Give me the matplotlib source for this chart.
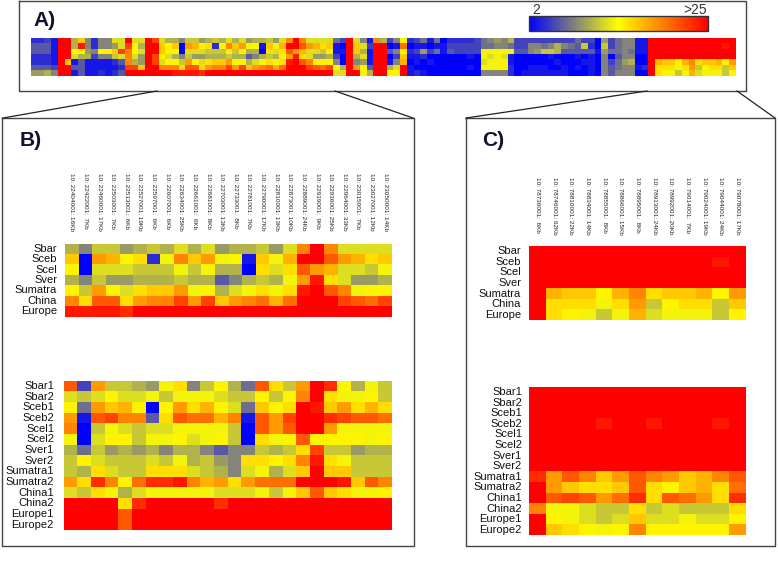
import numpy as np
import matplotlib
matplotlib.use("Agg")
import matplotlib.pyplot as plt
from matplotlib.cm import ScalarMappable
from matplotlib.colors import LinearSegmentedColormap, Normalize

plt.rcParams['font.family'] = ['Liberation Sans', 'DejaVu Sans']

# ==== labels ====
top_rows = ["Sbar", "Sceb", "Scel", "Sver", "Sumatra", "China", "Europe"]
bottom_rows = ["Sbar1", "Sbar2", "Sceb1", "Sceb2", "Scel1", "Scel2", "Sver1", "Sver2",
               "Sumatra1", "Sumatra2", "China1", "China2", "Europe1", "Europe2"]

b_cols = ["10: 22404001: 16Kb", "10: 22422001:  7Kb", "10: 22460001: 17Kb", "10: 22503001:  7Kb",
          "10: 22513001:  6Kb", "10: 22527001: 19Kb", "10: 22597001:  6Kb", "10: 22607001:  6Kb",
          "10: 22634001: 25Kb", "10: 22661001:  6Kb", "10: 22681001:  8Kb", "10: 22703001: 13Kb",
          "10: 22733001:  8Kb", "10: 22781001:  7Kb", "10: 22790001: 17Kb", "10: 22810001: 13Kb",
          "10: 22873001: 10Kb", "10: 22889001: 24Kb", "10: 22919001:  9Kb", "10: 22936001: 25Kb",
          "10: 22964001: 33Kb", "10: 23015001:  7Kb", "10: 23027001: 12Kb", "10: 23050001: 14Kb"]
c_cols = ["10: 78736001:  6Kb", "10: 78746001: 62Kb", "10: 78810001: 22Kb", "10: 78834001: 14Kb",
          "10: 78855001:  8Kb", "10: 78866001: 15Kb", "10: 78895001:  8Kb", "10: 78913001: 24Kb",
          "10: 78992001: 20Kb", "10: 79014001:  7Kb", "10: 79024001: 19Kb", "10: 79044001: 24Kb",
          "10: 79078001: 17Kb"]

# ==== panel B, 7 rows ====
b_top = [
    [10, 8, 11, 11, 9, 10, 11, 10, 12, 10, 12, 9, 10, 10, 11, 9, 12, 19, 25, 19, 12, 12, 12, 12],
    [16, 2, 18, 17, 14, 15, 4, 13, 19, 16, 18, 13, 14, 3, 16, 13, 17, 25, 25, 21, 18, 17, 15, 16],
    [14, 2, 12, 12, 12, 11, 11, 11, 13, 11, 13, 10, 10, 2, 15, 12, 15, 21, 18, 17, 12, 12, 11, 13],
    [10, 8, 11, 9, 9, 10, 10, 10, 11, 10, 10, 6, 8, 10, 11, 10, 13, 18, 24, 15, 12, 9, 9, 10],
    [14, 11, 18, 14, 12, 15, 16, 16, 18, 13, 14, 10, 12, 13, 15, 13, 15, 24, 25, 21, 19, 13, 14, 14],
    [19, 15, 21, 21, 15, 18, 19, 19, 22, 18, 22, 16, 18, 19, 20, 17, 20, 25, 25, 25, 22, 21, 20, 22],
    [24, 24, 24, 24, 23, 25, 25, 25, 25, 25, 25, 25, 25, 25, 25, 25, 25, 25, 25, 25, 25, 25, 25, 25],
]

# ==== panel B, 14 rows ====
b_bottom = [
    [21, 5, 18, 11, 11, 10, 9, 13, 15, 8, 11, 14, 10, 7, 21, 15, 11, 18, 25, 23, 14, 10, 13, 11],
    [12, 11, 12, 14, 12, 12, 13, 11, 13, 13, 13, 12, 11, 11, 14, 11, 14, 19, 25, 15, 13, 13, 14, 11],
    [14, 7, 18, 16, 17, 14, 2, 14, 18, 15, 17, 14, 12, 7, 16, 14, 15, 25, 24, 16, 18, 15, 17, 15],
    [18, 3, 21, 22, 19, 19, 6, 15, 21, 20, 20, 17, 19, 3, 21, 18, 22, 25, 25, 23, 22, 21, 21, 20],
    [19, 2, 11, 13, 12, 11, 12, 12, 13, 13, 13, 13, 11, 2, 21, 18, 21, 25, 25, 18, 13, 13, 13, 13],
    [13, 2, 12, 14, 14, 11, 13, 13, 14, 12, 13, 14, 11, 2, 15, 13, 14, 21, 14, 14, 14, 14, 13, 14],
    [10, 7, 11, 9, 10, 9, 10, 8, 10, 10, 8, 6, 8, 8, 11, 10, 11, 15, 22, 11, 11, 9, 10, 10],
    [11, 14, 12, 11, 11, 11, 12, 11, 13, 10, 11, 9, 8, 15, 15, 14, 15, 19, 24, 15, 13, 11, 11, 11],
    [11, 10, 15, 12, 11, 11, 15, 15, 15, 12, 11, 10, 8, 12, 13, 10, 12, 16, 25, 16, 16, 11, 11, 11],
    [18, 15, 23, 19, 14, 20, 23, 23, 24, 19, 17, 18, 15, 18, 20, 20, 20, 25, 25, 25, 24, 16, 21, 19],
    [12, 11, 15, 13, 10, 12, 13, 13, 13, 13, 13, 12, 12, 12, 13, 11, 13, 16, 21, 16, 15, 13, 13, 14],
    [25, 25, 25, 25, 15, 23, 25, 25, 25, 25, 25, 23, 25, 25, 25, 25, 25, 25, 25, 25, 25, 25, 25, 25],
    [25, 25, 25, 25, 21, 25, 25, 25, 25, 25, 25, 25, 25, 25, 25, 25, 25, 25, 25, 25, 25, 25, 25, 25],
    [25, 25, 25, 25, 21, 25, 25, 25, 25, 25, 25, 25, 25, 25, 25, 25, 25, 25, 25, 25, 25, 25, 25, 25],
]

# ==== panel C, 7 rows ====
c_top = [
    [25, 25, 25, 25, 25, 25, 25, 25, 25, 25, 25, 25, 25],
    [25, 25, 25, 25, 25, 25, 25, 25, 25, 25, 25, 24, 25],
    [25, 25, 25, 25, 25, 25, 25, 25, 25, 25, 25, 25, 25],
    [25, 25, 25, 25, 25, 25, 25, 25, 25, 25, 25, 25, 25],
    [25, 17, 16, 16, 14, 17, 19, 15, 16, 16, 17, 14, 18],
    [25, 15, 15, 15, 13, 15, 18, 11, 14, 15, 15, 11, 16],
    [25, 15, 14, 13, 11, 13, 17, 12, 13, 13, 13, 11, 14],
]

# ==== panel C, 14 rows ====
c_bottom = [
    [25, 25, 25, 25, 25, 25, 25, 25, 25, 25, 25, 25, 25],
    [25, 25, 25, 25, 25, 25, 25, 25, 25, 25, 25, 25, 25],
    [25, 25, 25, 25, 25, 25, 25, 25, 25, 25, 25, 25, 25],
    [25, 25, 25, 25, 24, 25, 25, 24, 25, 25, 25, 24, 25],
    [25, 25, 25, 25, 25, 25, 25, 25, 25, 25, 25, 25, 25],
    [25, 25, 25, 25, 25, 25, 25, 25, 25, 25, 25, 25, 25],
    [25, 25, 25, 25, 25, 25, 25, 25, 25, 25, 25, 25, 25],
    [25, 25, 25, 25, 25, 25, 25, 25, 25, 25, 25, 25, 25],
    [23, 18, 21, 19, 16, 18, 21, 19, 18, 16, 17, 19, 21],
    [25, 18, 16, 15, 15, 16, 21, 15, 14, 16, 17, 15, 20],
    [25, 21, 22, 21, 18, 20, 23, 15, 21, 20, 18, 15, 23],
    [19, 13, 13, 12, 11, 11, 15, 11, 12, 11, 11, 11, 15],
    [25, 14, 13, 12, 11, 12, 16, 12, 12, 13, 12, 12, 14],
    [25, 16, 15, 14, 13, 14, 19, 14, 14, 14, 14, 14, 18],
]

# ==== panel A: the columns that are not in B or C, one list per column ====
a_left_cols = [
    [4, 6, 6, 4, 4, 6, 9], [4, 6, 6, 4, 4, 6, 9], [5, 6, 6, 4, 4, 6, 10], [3, 3, 3, 3, 3, 5, 8],
    [25, 25, 25, 25, 25, 25, 25], [25, 25, 25, 25, 16, 25, 25], [10, 10, 14, 12, 3, 6, 3],
    [16, 24, 14, 10, 6, 6, 6], [8, 8, 9, 10, 3, 3, 3], [4, 4, 8, 5, 3, 3, 3],
    [8, 8, 14, 8, 3, 3, 4], [8, 8, 14, 8, 3, 3, 3], [12, 9, 16, 11, 4, 3, 4],
    [12, 12, 22, 12, 6, 4, 6], [25, 22, 19, 19, 19, 22, 25], [12, 14, 14, 12, 10, 22, 25],
    [12, 10, 12, 9, 9, 16, 25], [25, 25, 25, 25, 25, 25, 25], [22, 25, 25, 22, 22, 25, 25],
    [12, 16, 16, 14, 12, 19, 25], [10, 14, 14, 12, 14, 19, 25],
]
a_mid_cols = [
    [7, 3, 3, 5, 8, 14, 12], [5, 2, 3, 2, 2, 10, 12], [25, 25, 25, 25, 25, 25, 25],
    [12, 16, 16, 10, 8, 18, 25], [8, 12, 10, 12, 9, 14, 14], [3, 5, 3, 3, 3, 6, 10],
    [19, 25, 25, 25, 25, 25, 25], [10, 25, 25, 25, 25, 25, 25], [5, 2, 6, 2, 3, 10, 14],
    [8, 3, 8, 5, 8, 12, 14], [14, 20, 14, 16, 17, 25, 25], [4, 2, 4, 3, 2, 3, 3],
    [5, 3, 5, 3, 3, 2, 4], [7, 3, 9, 4, 2, 2, 3], [3, 2, 5, 2, 3, 2, 2],
    [7, 3, 7, 2, 2, 2, 2], [2, 3, 3, 2, 2, 2, 2], [4, 5, 6, 2, 2, 2, 2],
    [4, 5, 5, 2, 2, 2, 2], [4, 5, 5, 2, 2, 2, 2], [4, 5, 5, 3, 2, 3, 2],
    [5, 5, 5, 2, 2, 2, 2], [7, 7, 13, 13, 12, 13, 8], [8, 7, 13, 12, 13, 13, 8],
    [9, 8, 13, 13, 13, 13, 8], [8, 8, 13, 12, 13, 14, 8], [10, 7, 14, 3, 3, 4, 4],
    [5, 5, 6, 2, 2, 2, 2], [5, 5, 6, 2, 2, 2, 3], [5, 8, 8, 2, 2, 3, 3],
    [5, 8, 9, 2, 2, 3, 3], [5, 7, 11, 2, 2, 3, 3], [5, 8, 11, 3, 2, 2, 3],
    [5, 10, 10, 2, 3, 2, 3], [5, 8, 6, 2, 2, 3, 3], [5, 7, 6, 2, 2, 2, 2],
    [7, 6, 6, 3, 2, 3, 2], [5, 11, 6, 2, 3, 2, 2], [5, 4, 6, 3, 3, 3, 3],
    [2, 2, 3, 2, 2, 2, 2], [9, 11, 9, 8, 8, 8, 8], [5, 5, 7, 2, 5, 6, 6],
    [7, 7, 7, 6, 7, 7, 8], [8, 8, 8, 8, 9, 8, 8], [8, 8, 7, 8, 10, 8, 8],
    [3, 3, 3, 2, 2, 3, 2], [3, 3, 3, 2, 2, 4, 2],
]

scale_min = 2
scale_max = 25

W, H = 778, 564
fig = plt.figure(figsize=(W / 100, H / 100), dpi=100)

# background axes in picture pixels, for frames, connector lines and the big letters
bg = fig.add_axes([0, 0, 1, 1])
bg.set_xlim(0, W)
bg.set_ylim(H, 0)
bg.axis("off")

cmap = LinearSegmentedColormap.from_list(
    "blue_gray_yellow_red",
    [(0, "#0000ff"), (0.25, "#808080"), (0.5, "#ffff00"), (1, "#ff0000")])
norm = Normalize(scale_min, scale_max)


def px_axes(x0, y0, x1, y1):
    return fig.add_axes([x0 / W, 1 - y1 / H, (x1 - x0) / W, (y1 - y0) / H])


def heat(values, x0, y0, x1, y1, rows=None, label_x=None, cols=None, cols_top=None):
    ax = px_axes(x0, y0, x1, y1)
    ax.pcolormesh(np.array(values), cmap=cmap, norm=norm)
    ax.invert_yaxis()
    ax.axis("off")
    n_rows, n_cols = np.array(values).shape
    if rows:
        step = (y1 - y0) / n_rows
        for i, name in enumerate(rows):
            bg.text(label_x, y0 + (i + 0.5) * step, name, ha="right", va="center",
                    fontsize=8, color="#111111")
    if cols:
        step = (x1 - x0) / n_cols
        for i, name in enumerate(cols):
            bg.text(x0 + (i + 0.5) * step, cols_top, name, rotation=-90, ha="center", va="top",
                    fontsize=4.6, color="#222222")


# frames
for x0, y0, x1, y1 in [(19, 1, 746, 91), (2, 118, 414, 546), (466, 118, 775, 546)]:
    bg.plot([x0, x1, x1, x0, x0], [y0, y0, y1, y1, y0], color="#444444", lw=1)

# connector lines from panel A down to B and C
bg.plot([157, 3], [91, 118], color="#222222", lw=0.9)
bg.plot([335, 413], [91, 118], color="#222222", lw=0.9)
bg.plot([647, 466], [91, 118], color="#222222", lw=0.9)
bg.plot([737, 775], [91, 118], color="#222222", lw=0.9)

bg.text(33, 20, "A)", fontsize=15, fontweight="bold", ha="left", va="center", color="#111133")
bg.text(20, 141, "B)", fontsize=15, fontweight="bold", ha="left", va="center", color="#111133")
bg.text(482, 141, "C)", fontsize=15, fontweight="bold", ha="left", va="center", color="#111133")

# panel A is the whole region: its B and C stretches come from the top tables
a_values = np.hstack([np.array(a_left_cols).T, np.array(b_top),
                      np.array(a_mid_cols).T, np.array(c_top)])
heat(a_values, 31, 38, 735.7, 75.5)

heat(b_top, 65, 243.5, 392, 316.5, top_rows, 57, b_cols, 173)
heat(b_bottom, 63.5, 380.7, 392, 530, bottom_rows, 54)
heat(c_top, 529, 246, 745.7, 320, top_rows, 521, c_cols, 177)
heat(c_bottom, 529, 386.7, 745.7, 535, bottom_rows, 522)

# colour scale
cax = px_axes(529, 16, 707.5, 31)
cb = fig.colorbar(ScalarMappable(norm=norm, cmap=cmap), cax=cax, orientation="horizontal")
cb.set_ticks([])
cb.outline.set_edgecolor("#333333")
cb.outline.set_linewidth(1)
bg.text(536, 10, "2", fontsize=10, ha="center", va="center", color="#333333")
bg.text(695, 10, ">25", fontsize=10, ha="center", va="center", color="#333333")

plt.savefig("out.png", dpi=100)
plt.close()
